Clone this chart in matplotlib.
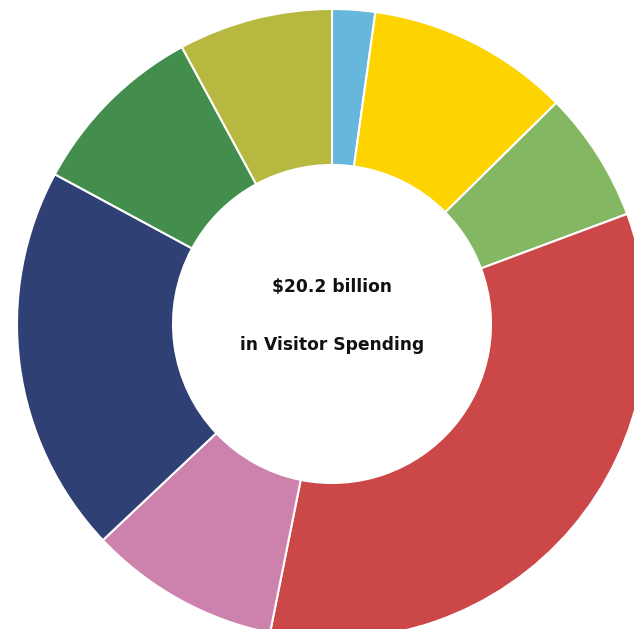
import matplotlib
matplotlib.use("Agg")
import matplotlib.pyplot as plt

categories = ["Cat A", "Cat B", "Cat C", "Cat D", "Cat E", "Cat F", "Cat G", "Cat H"]
shares = [2.2, 10.4, 6.7, 33.8, 9.8, 19.9, 9.2, 7.9]
colors = ["#67b7dc", "#fdd400", "#84b761", "#cc4748", "#cd82ad", "#2f4074", "#448e4d", "#b7b83f"]
center_line1 = "$20.2 billion"
center_line2 = "in Visitor Spending"

W, H = 634, 629
fig = plt.figure(figsize=(W / 100, H / 100), dpi=100)
ax = fig.add_axes([0, 0, 1, 1])

cx, cy = 332, H - 324
R, r = 315, 159
ax.pie(shares, colors=colors, startangle=90, counterclock=False,
       radius=R, center=(cx, cy), frame=True,
       wedgeprops=dict(width=R - r, edgecolor="white", linewidth=1.5))
ax.set_xlim(0, W)
ax.set_ylim(0, H)
ax.set_aspect("equal")
ax.axis("off")

ax.text(cx, H - 287, center_line1, ha="center", va="center",
        fontsize=12.3, fontweight="bold", color="#111111", family="DejaVu Sans")
ax.text(cx, H - 345, center_line2, ha="center", va="center",
        fontsize=12.3, fontweight="bold", color="#111111", family="DejaVu Sans")

fig.savefig("out.png", dpi=100)
